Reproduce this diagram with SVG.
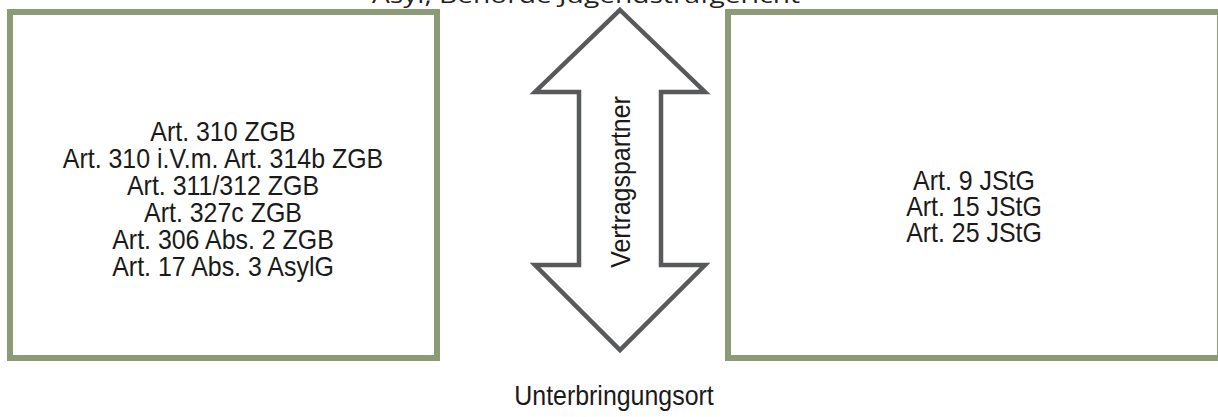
<svg xmlns="http://www.w3.org/2000/svg" width="1218" height="417" viewBox="0 0 1218 417">
<style>
.box{fill:#ffffff;stroke:#8c9a78;stroke-width:6}
.t{font-family:"Liberation Sans",Arial,sans-serif;font-size:28px;fill:#1a1a1a;text-anchor:middle}
.top{font-family:"Open Sans","Liberation Sans",sans-serif;font-size:21px;fill:#222222;text-anchor:middle}
.arrow{fill:#ffffff;stroke:#58595b;stroke-width:4.5;stroke-linejoin:miter}
</style>
<rect width="1218" height="417" fill="#ffffff"/>
<text class="top" x="586" y="3" textLength="428" lengthAdjust="spacingAndGlyphs">Asyl, Behörde Jugendstrafgericht</text>
<g id="left-box">
<rect class="box" x="10" y="12" width="427" height="346"/>
<text class="t" transform="translate(223,141) scale(0.89,1)">Art. 310 ZGB</text>
<text class="t" transform="translate(223,168) scale(0.89,1)">Art. 310 i.V.m. Art. 314b ZGB</text>
<text class="t" transform="translate(223,195) scale(0.89,1)">Art. 311/312 ZGB</text>
<text class="t" transform="translate(223,222) scale(0.89,1)">Art. 327c ZGB</text>
<text class="t" transform="translate(223,249) scale(0.89,1)">Art. 306 Abs. 2 ZGB</text>
<text class="t" transform="translate(223,276) scale(0.89,1)">Art. 17 Abs. 3 AsylG</text>
</g>
<g id="right-box">
<rect class="box" x="728" y="12" width="492" height="346"/>
<text class="t" transform="translate(974,190) scale(0.89,1)">Art. 9 JStG</text>
<text class="t" transform="translate(974,216) scale(0.89,1)">Art. 15 JStG</text>
<text class="t" transform="translate(974,242) scale(0.89,1)">Art. 25 JStG</text>
</g>
<g id="connectors">
<path class="arrow" d="M620,10 L705,92 L661,92 L661,265 L705,265 L620,350 L535,265 L579,265 L579,92 L535,92 Z"/>
<text class="t" transform="translate(630,182) rotate(-90) scale(0.89,1)">Vertragspartner</text>
</g>
<text class="t" transform="translate(614,405) scale(0.89,1)">Unterbringungsort</text>
</svg>
